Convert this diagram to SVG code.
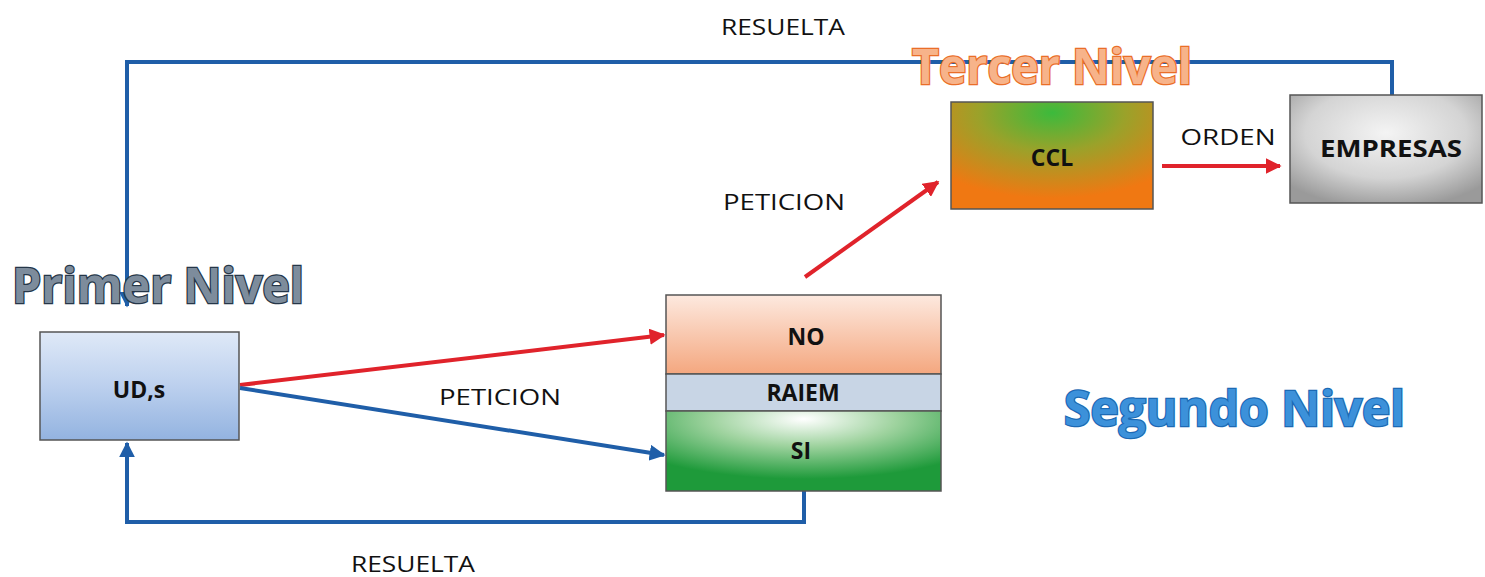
<svg xmlns="http://www.w3.org/2000/svg" width="1485" height="577" viewBox="0 0 1485 577">
<style>
.lbl{font-family:"Open Sans","Liberation Sans",sans-serif;font-size:22px;fill:#111;text-anchor:middle}
.nt{font-family:"Open Sans","Liberation Sans",sans-serif;font-size:23px;font-weight:bold;fill:#111;text-anchor:middle}
.title{font-family:"Open Sans","Liberation Sans",sans-serif;font-size:48px;font-weight:bold;stroke-width:2.5px;paint-order:stroke}
.blue{stroke:#1f5ea8;stroke-width:4;fill:none}
.red{stroke:#e0232b;stroke-width:4;fill:none}
.box{stroke:#555;stroke-width:1.5}
</style>
<defs>
<linearGradient id="gUD" x1="0" y1="0" x2="0" y2="1">
<stop offset="0" stop-color="#dfe9f7"/><stop offset="0.5" stop-color="#bcd0ee"/><stop offset="1" stop-color="#93b3e0"/>
</linearGradient>
<linearGradient id="gNO" x1="0" y1="0" x2="0" y2="1">
<stop offset="0" stop-color="#fde9df"/><stop offset="1" stop-color="#f4a77f"/>
</linearGradient>
<radialGradient id="gSI" cx="0.5" cy="0.1" r="0.75">
<stop offset="0" stop-color="#ffffff"/><stop offset="0.45" stop-color="#9fd39f"/><stop offset="1" stop-color="#1e9a3a"/>
</radialGradient>
<radialGradient id="gCCL" cx="0.5" cy="0.1" r="0.8">
<stop offset="0" stop-color="#3cba3c"/><stop offset="0.45" stop-color="#9aa22a"/><stop offset="1" stop-color="#f07812"/>
</radialGradient>
<radialGradient id="gEMP" cx="0.5" cy="0.35" r="0.7">
<stop offset="0" stop-color="#f4f4f4"/><stop offset="0.6" stop-color="#d4d4d4"/><stop offset="1" stop-color="#9a9a9a"/>
</radialGradient>
<marker id="aB" viewBox="0 0 10 10" refX="9" refY="5" markerWidth="4" markerHeight="4" orient="auto" markerUnits="strokeWidth">
<path d="M0,0 L10,5 L0,10 z" fill="#1f5ea8"/>
</marker>
<marker id="aR" viewBox="0 0 10 10" refX="9" refY="5" markerWidth="4" markerHeight="4" orient="auto" markerUnits="strokeWidth">
<path d="M0,0 L10,5 L0,10 z" fill="#e0232b"/>
</marker>
</defs>
<rect width="1485" height="577" fill="#fff"/>
<g id="connectors">
<polyline class="blue" points="1392,95 1392,62 127,62 127,306" marker-end="url(#aB)"/>
<polyline class="blue" points="804,491 804,522 127,522 127,443" marker-end="url(#aB)"/>
<line class="red" x1="240" y1="385" x2="664" y2="335" marker-end="url(#aR)"/>
<line class="blue" x1="240" y1="388" x2="664" y2="455" marker-end="url(#aB)"/>
<line class="red" x1="805" y1="277" x2="938" y2="182" marker-end="url(#aR)"/>
<line class="red" x1="1162" y1="166" x2="1280" y2="166" marker-end="url(#aR)"/>
<text class="lbl" x="783" y="35" textLength="124" lengthAdjust="spacingAndGlyphs">RESUELTA</text>
<text class="lbl" x="784" y="210" textLength="122" lengthAdjust="spacingAndGlyphs">PETICION</text>
<text class="lbl" x="1228" y="145" textLength="95" lengthAdjust="spacingAndGlyphs">ORDEN</text>
<text class="lbl" x="500" y="405" textLength="122" lengthAdjust="spacingAndGlyphs">PETICION</text>
<text class="lbl" x="413" y="572" textLength="124" lengthAdjust="spacingAndGlyphs">RESUELTA</text>
</g>
<g id="primer-nivel">
<text class="title" x="12" y="303" textLength="292" lengthAdjust="spacingAndGlyphs" fill="#7d8c9c" stroke="#253648">Primer Nivel</text>
</g>
<g id="uds">
<rect class="box" x="40" y="332" width="199" height="108" fill="url(#gUD)"/>
<text class="nt" x="139" y="398">UD,s</text>
</g>
<g id="no">
<rect class="box" x="666" y="295" width="275" height="79" fill="url(#gNO)"/>
<text class="nt" x="806" y="345">NO</text>
</g>
<g id="raiem">
<rect class="box" x="666" y="374" width="275" height="37" fill="#c8d5e5"/>
<text class="nt" x="803" y="401">RAIEM</text>
</g>
<g id="si">
<rect class="box" x="666" y="411" width="275" height="80" fill="url(#gSI)"/>
<text class="nt" x="801" y="459">SI</text>
</g>
<g id="tercer-nivel">
<text class="title" x="912" y="84" textLength="280" lengthAdjust="spacingAndGlyphs" fill="#f7b38a" stroke="#ea6e28">Tercer Nivel</text>
</g>
<g id="ccl">
<rect class="box" x="951" y="102" width="202" height="107" fill="url(#gCCL)"/>
<text class="nt" x="1052" y="166">CCL</text>
</g>
<g id="empresas">
<rect class="box" x="1290" y="95" width="192" height="108" fill="url(#gEMP)"/>
<text class="nt" x="1391" y="157" textLength="142" lengthAdjust="spacingAndGlyphs">EMPRESAS</text>
</g>
<g id="segundo-nivel">
<text class="title" x="1064" y="426" textLength="341" lengthAdjust="spacingAndGlyphs" fill="#3c91da" stroke="#1c6ab4">Segundo Nivel</text>
</g>
</svg>
